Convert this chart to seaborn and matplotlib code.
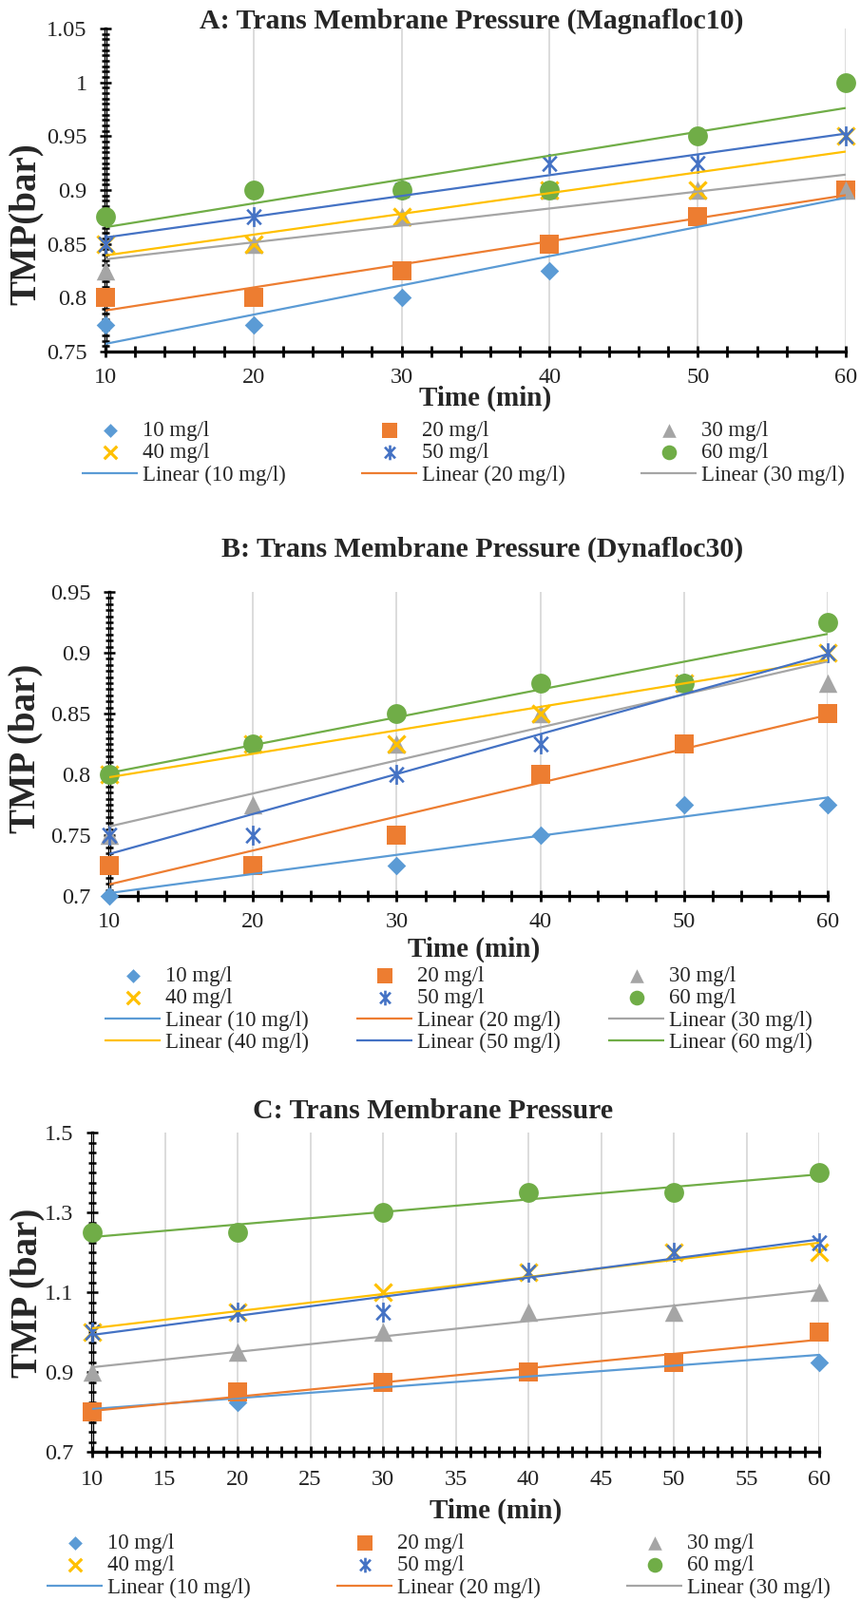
import numpy as np
import matplotlib
matplotlib.use("Agg")
import matplotlib.pyplot as plt
from matplotlib.path import Path
from matplotlib.ticker import MultipleLocator, FixedLocator, FixedFormatter
import seaborn as sns

# ---------------- data ----------------
time_min = [10, 20, 30, 40, 50, 60]
dose_labels = ["10 mg/l", "20 mg/l", "30 mg/l", "40 mg/l", "50 mg/l", "60 mg/l"]
linear_labels = ["Linear (10 mg/l)", "Linear (20 mg/l)", "Linear (30 mg/l)",
                 "Linear (40 mg/l)", "Linear (50 mg/l)", "Linear (60 mg/l)"]

# Panel A: Magnafloc10
mag_10 = [0.775, 0.775, 0.800, 0.825, 0.875, 0.900]
mag_20 = [0.800, 0.800, 0.825, 0.850, 0.875, 0.900]
mag_30 = [0.825, 0.850, 0.875, 0.900, 0.900, 0.900]
mag_40 = [0.850, 0.850, 0.875, 0.900, 0.900, 0.950]
mag_50 = [0.850, 0.875, 0.900, 0.925, 0.925, 0.950]
mag_60 = [0.875, 0.900, 0.900, 0.900, 0.950, 1.000]

# Panel B: Dynafloc30
dyn_10 = [0.700, 0.725, 0.725, 0.750, 0.775, 0.775]
dyn_20 = [0.725, 0.725, 0.750, 0.800, 0.825, 0.850]
dyn_30 = [0.750, 0.775, 0.825, 0.850, 0.875, 0.875]
dyn_40 = [0.800, 0.825, 0.825, 0.850, 0.875, 0.900]
dyn_50 = [0.750, 0.750, 0.800, 0.825, 0.875, 0.900]
dyn_60 = [0.800, 0.825, 0.850, 0.875, 0.875, 0.925]

# Panel C
tmp_10 = [0.800, 0.825, 0.875, 0.900, 0.925, 0.925]
tmp_20 = [0.800, 0.850, 0.875, 0.900, 0.925, 1.000]
tmp_30 = [0.900, 0.950, 1.000, 1.050, 1.050, 1.100]
tmp_40 = [1.000, 1.050, 1.100, 1.150, 1.200, 1.200]
tmp_50 = [1.000, 1.050, 1.050, 1.150, 1.200, 1.225]
tmp_60 = [1.250, 1.250, 1.300, 1.350, 1.350, 1.400]

titles = ["A: Trans Membrane Pressure (Magnafloc10)",
          "B: Trans Membrane Pressure (Dynafloc30)",
          "C: Trans Membrane Pressure"]
ylabels = ["TMP(bar)", "TMP (bar)", "TMP (bar)"]
xlabel_text = "Time (min)"

mag_yticks = [0.75, 0.80, 0.85, 0.90, 0.95, 1.00, 1.05]
mag_ytick_labels = ["0.75", "0.8", "0.85", "0.9", "0.95", "1", "1.05"]
dyn_yticks = [0.70, 0.75, 0.80, 0.85, 0.90, 0.95]
dyn_ytick_labels = ["0.7", "0.75", "0.8", "0.85", "0.9", "0.95"]
tmp_yticks = [0.7, 0.9, 1.1, 1.3, 1.5]
tmp_ytick_labels = ["0.7", "0.9", "1.1", "1.3", "1.5"]
ab_xticks = [10, 20, 30, 40, 50, 60]
c_xticks = [10, 15, 20, 25, 30, 35, 40, 45, 50, 55, 60]

# ---------------- style ----------------
sns.set_theme(style="ticks")
plt.rcParams["font.family"] = ["Liberation Serif", "DejaVu Serif"]
plt.rcParams["xtick.bottom"] = True
plt.rcParams["ytick.left"] = True

colors = ["#5B9BD5", "#ED7D31", "#A5A5A5", "#FFC000", "#4472C4", "#70AD47"]
star = Path([(0, -1), (0, 1), (-0.7, -0.75), (0.7, 0.75), (-0.7, 0.75), (0.7, -0.75)],
            [Path.MOVETO, Path.LINETO, Path.MOVETO, Path.LINETO, Path.MOVETO, Path.LINETO])
markers = ["D", "s", "^", "x", star, "o"]
msizes = [10, 15, 14, 13, 15, 15]
mlw = [0, 0, 0, 2.3, 1.9, 0]

W, H = 905, 1684
fig = plt.figure(figsize=(W / 100, H / 100), dpi=100)


def fx(px):
    return px / W


def fy(py):
    return 1 - py / H


def rowmajor(items, ncol):
    n = len(items)
    nrow = int(np.ceil(n / ncol))
    out = []
    for c in range(ncol):
        for r in range(nrow):
            i = r * ncol + c
            if i < n:
                out.append(items[i])
    return out


panels = [
    dict(series=[mag_10, mag_20, mag_30, mag_40, mag_50, mag_60],
         rect=(111, 890, 30, 370), ylim=(0.75, 1.05),
         yticks=mag_yticks, ylabs=mag_ytick_labels, yminor=0.005,
         xticks=ab_xticks, xminor=2, nlin=3,
         title_pos=(496, 30), xlab_pos=(511, 427), ylab_pos=(27, 236),
         leg_pos=(86, 443), colsp=3.45, xpad=10.5),
    dict(series=[dyn_10, dyn_20, dyn_30, dyn_40, dyn_50, dyn_60],
         rect=(115, 871, 623, 943), ylim=(0.70, 0.95),
         yticks=dyn_yticks, ylabs=dyn_ytick_labels, yminor=0.005,
         xticks=ab_xticks, xminor=2, nlin=6,
         title_pos=(508, 586), xlab_pos=(499, 1007), ylab_pos=(27, 788),
         leg_pos=(110, 1017), colsp=2.18, xpad=10.5),
    dict(series=[tmp_10, tmp_20, tmp_30, tmp_40, tmp_50, tmp_60],
         rect=(97, 862, 1192, 1528), ylim=(0.7, 1.5),
         yticks=tmp_yticks, ylabs=tmp_ytick_labels, yminor=0.025,
         xticks=c_xticks, xminor=1, nlin=3,
         title_pos=(456, 1177), xlab_pos=(522, 1598), ylab_pos=(29, 1361),
         leg_pos=(49, 1614), colsp=3.93, xpad=12),
]

for k, p in enumerate(panels):
    l, r, t, b = p["rect"]
    ax = fig.add_axes([fx(l), fy(b), fx(r) - fx(l), (b - t) / H])
    pts = []
    lins = []
    for vals, col, mk, ms, lw, lab in zip(p["series"], colors, markers, msizes, mlw, dose_labels):
        sns.scatterplot(x=time_min, y=vals, ax=ax, marker=mk, s=ms ** 2, color=col,
                        edgecolor=col, linewidth=lw, clip_on=False, zorder=3, legend=False)
        pts.append(ax.collections[-1])
    for vals, col in zip(p["series"], colors):
        sns.regplot(x=np.array(time_min, float), y=np.array(vals, float), ax=ax,
                    scatter=False, ci=None, color=col,
                    line_kws=dict(lw=1.6, zorder=4, solid_capstyle="butt"))
        lins.append(ax.lines[-1])

    ax.set_xlim(10, 60)
    ax.set_ylim(*p["ylim"])
    ax.xaxis.set_major_locator(FixedLocator(p["xticks"]))
    ax.xaxis.set_minor_locator(MultipleLocator(p["xminor"]))
    ax.yaxis.set_major_locator(FixedLocator(p["yticks"]))
    ax.yaxis.set_major_formatter(FixedFormatter(p["ylabs"]))
    ax.yaxis.set_minor_locator(MultipleLocator(p["yminor"]))

    for s in ["top", "right"]:
        ax.spines[s].set_visible(False)
    for s in ["left", "bottom"]:
        ax.spines[s].set_visible(True)
        ax.spines[s].set_color("black")
        ax.spines[s].set_linewidth(2.4)

    ax.tick_params(axis="x", which="both", direction="inout", length=8, width=2.0,
                   color="black", bottom=True, labelsize=17.5, pad=p["xpad"] - 2.5,
                   labelcolor="#222222")
    ax.tick_params(axis="y", which="both", direction="inout", length=6, width=1.8,
                   color="black", left=True, labelsize=17.5, pad=11,
                   labelcolor="#222222")
    ax.tick_params(axis="y", which="major", length=8, pad=10)

    ax.grid(False)
    ax.xaxis.grid(True, which="major", color="#D9D9D9", lw=1.3)
    ax.set_axisbelow(False)
    for gl in ax.get_xgridlines():
        gl.set_zorder(0.5)

    ax.set_xlabel(xlabel_text, fontsize=21, fontweight="bold", va="baseline")
    ax.xaxis.set_label_coords(fx(p["xlab_pos"][0]), fy(p["xlab_pos"][1]),
                              transform=fig.transFigure)
    ax.set_ylabel(ylabels[k], fontsize=28, fontweight="bold", va="center")
    ax.yaxis.set_label_coords(fx(p["ylab_pos"][0]), fy(p["ylab_pos"][1]),
                              transform=fig.transFigure)

    fig.text(fx(p["title_pos"][0]), fy(p["title_pos"][1]), titles[k],
             fontsize=21.5, fontweight="bold", ha="center", va="baseline")

    handles = pts + lins[:p["nlin"]]
    labels = dose_labels + linear_labels[:p["nlin"]]
    fig.legend(rowmajor(handles, 3), rowmajor(labels, 3), loc="upper left",
               bbox_to_anchor=(fx(p["leg_pos"][0]), fy(p["leg_pos"][1])),
               ncol=3, frameon=False, borderpad=0, borderaxespad=0,
               handlelength=2.58, handletextpad=0.22, columnspacing=p["colsp"],
               labelspacing=0.1, fontsize=16.5, markerscale=0.75)

fig.savefig("out.png", dpi=100)
